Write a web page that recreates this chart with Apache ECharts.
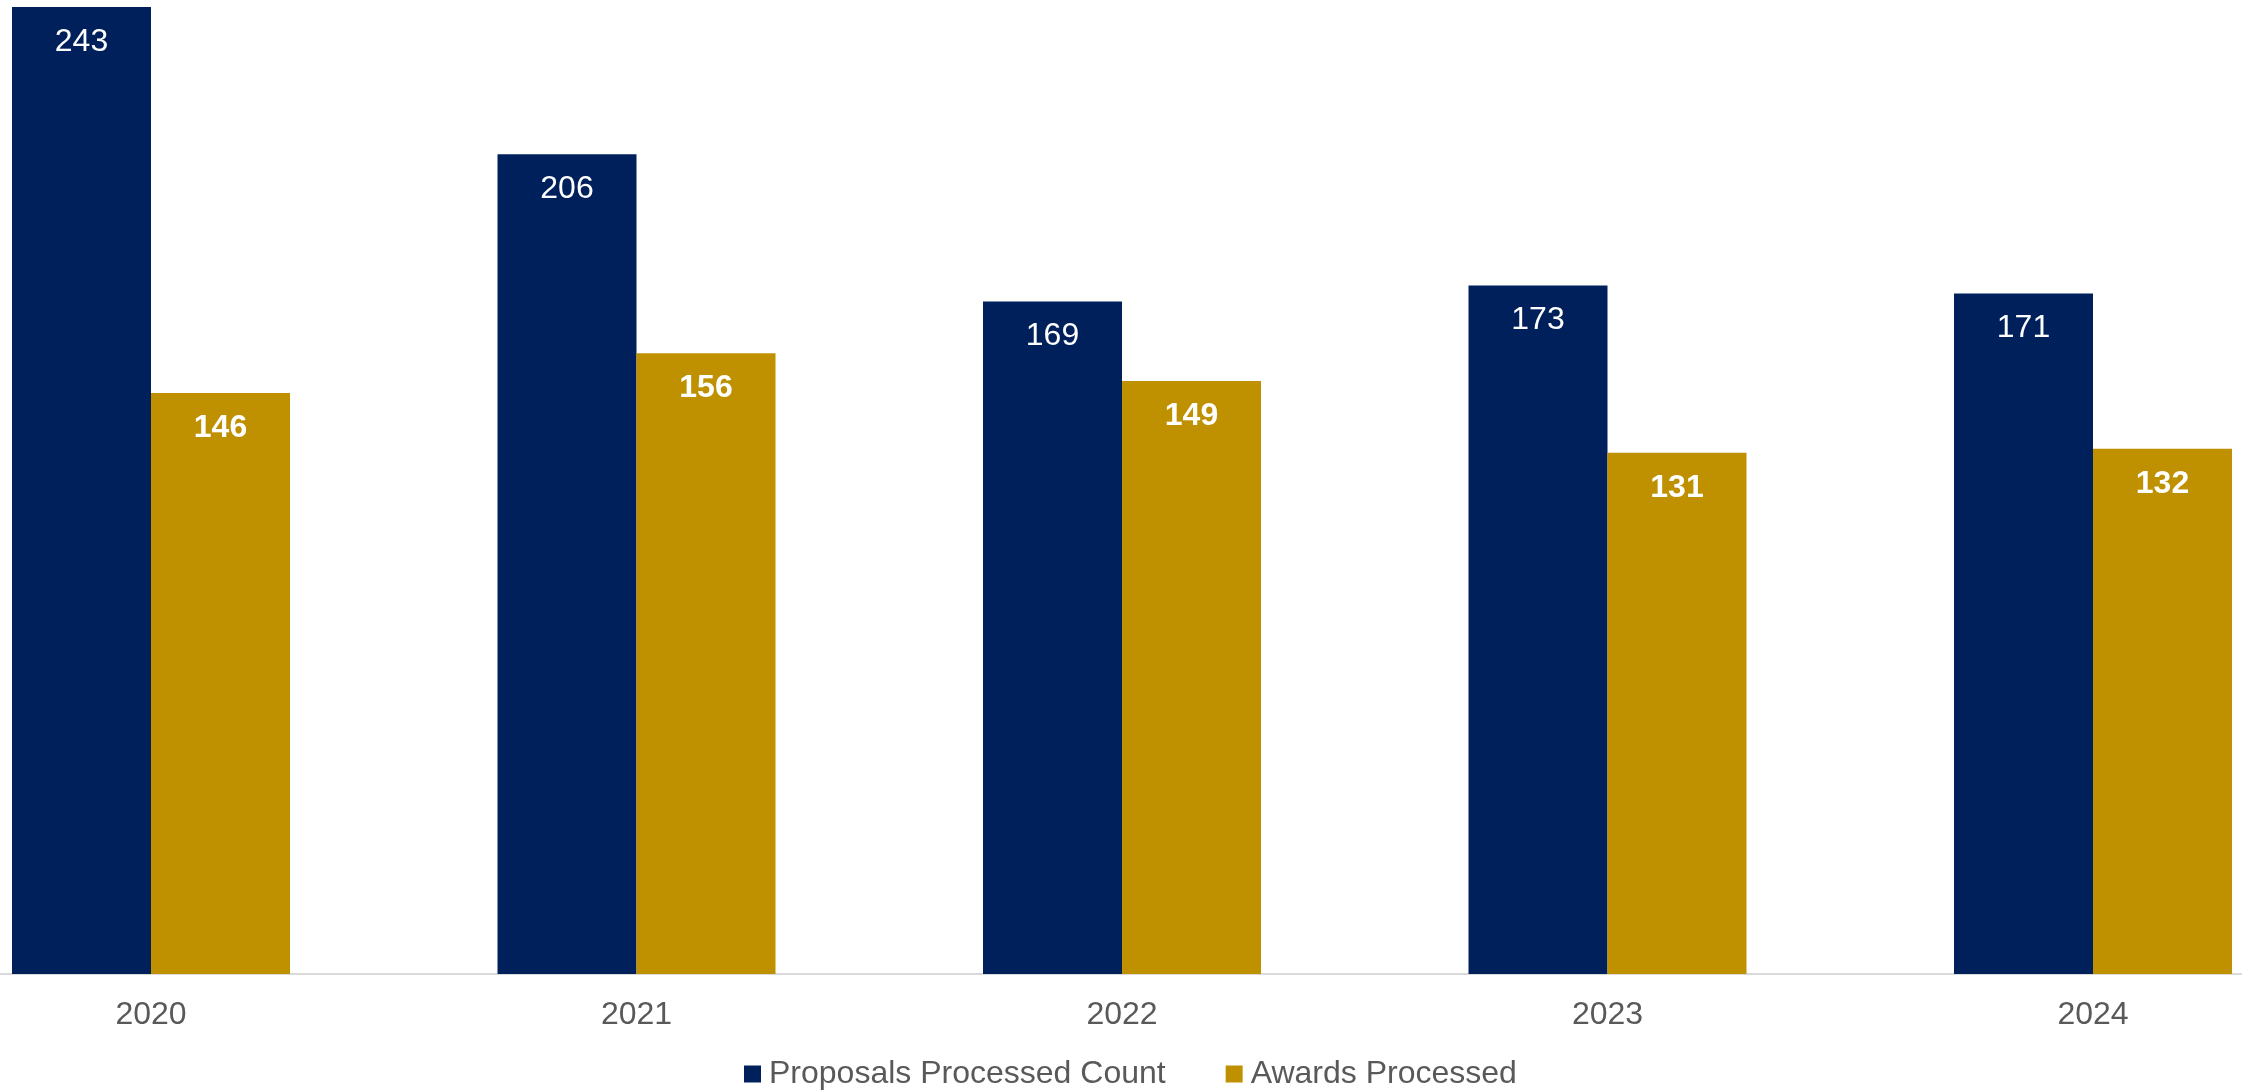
<!DOCTYPE html>
<html>
<head>
<meta charset="utf-8">
<script src="https://cdn.jsdelivr.net/npm/echarts@6/dist/echarts.min.js"></script>
<style>
html,body{margin:0;padding:0;background:#fff;}
#chart{width:2242px;height:1091px;}
</style>
</head>
<body>
<div id="chart"></div>
<script>
const categories = ['2020', '2021', '2022', '2023', '2024'];
const proposals = [243, 206, 169, 173, 171];
const awards = [146, 156, 149, 131, 132];
const seriesNames = ['Proposals Processed Count', 'Awards Processed'];

const FONT = '"Liberation Sans", Arial, sans-serif';
const chart = echarts.init(document.getElementById('chart'));
chart.setOption({
  animation: false,
  backgroundColor: '#ffffff',
  textStyle: { fontFamily: FONT },
  grid: [
    { left: 151, right: 149, top: 7, bottom: 117, containLabel: false },
    { left: 0, right: 0, top: 7, bottom: 117, containLabel: false }
  ],
  legend: {
    left: 739,
    top: 1053,
    itemWidth: 17,
    itemHeight: 17,
    itemGap: 60,
    icon: 'rect',
    textStyle: { fontSize: 32, color: '#595959', fontFamily: FONT, padding: [0, 0, 0, 3] },
    data: seriesNames
  },
  xAxis: [
    {
      type: 'category',
      gridIndex: 0,
      data: categories,
      boundaryGap: false,
      axisLine: { show: false },
      axisTick: { show: false },
      splitLine: { show: false },
      axisLabel: { fontSize: 32, color: '#595959', margin: 25, fontFamily: FONT }
    },
    {
      type: 'value',
      gridIndex: 1,
      min: 0,
      max: 1,
      axisLine: { show: true, lineStyle: { color: '#d9d9d9', width: 2 } },
      axisTick: { show: false },
      axisLabel: { show: false },
      splitLine: { show: false }
    }
  ],
  yAxis: [
    { type: 'value', gridIndex: 0, min: 0, max: 243, show: false, splitLine: { show: false } },
    { type: 'value', gridIndex: 1, min: 0, max: 1, show: false, splitLine: { show: false } }
  ],
  series: [
    {
      name: seriesNames[0],
      type: 'bar',
      xAxisIndex: 0,
      yAxisIndex: 0,
      clip: false,
      data: proposals,
      barWidth: 139,
      barGap: '0%',
      z: 3,
      itemStyle: { color: '#00205C' },
      label: {
        show: true,
        position: 'insideTop',
        distance: 19,
        color: '#ffffff',
        fontSize: 32,
        fontFamily: FONT
      }
    },
    {
      name: seriesNames[1],
      type: 'bar',
      xAxisIndex: 0,
      yAxisIndex: 0,
      clip: false,
      data: awards,
      barWidth: 139,
      barGap: '0%',
      z: 3,
      itemStyle: { color: '#BF9000' },
      label: {
        show: true,
        position: 'insideTop',
        distance: 19,
        color: '#ffffff',
        fontSize: 32,
        fontWeight: 'bold',
        fontFamily: FONT
      }
    }
  ]
});
</script>
</body>
</html>
